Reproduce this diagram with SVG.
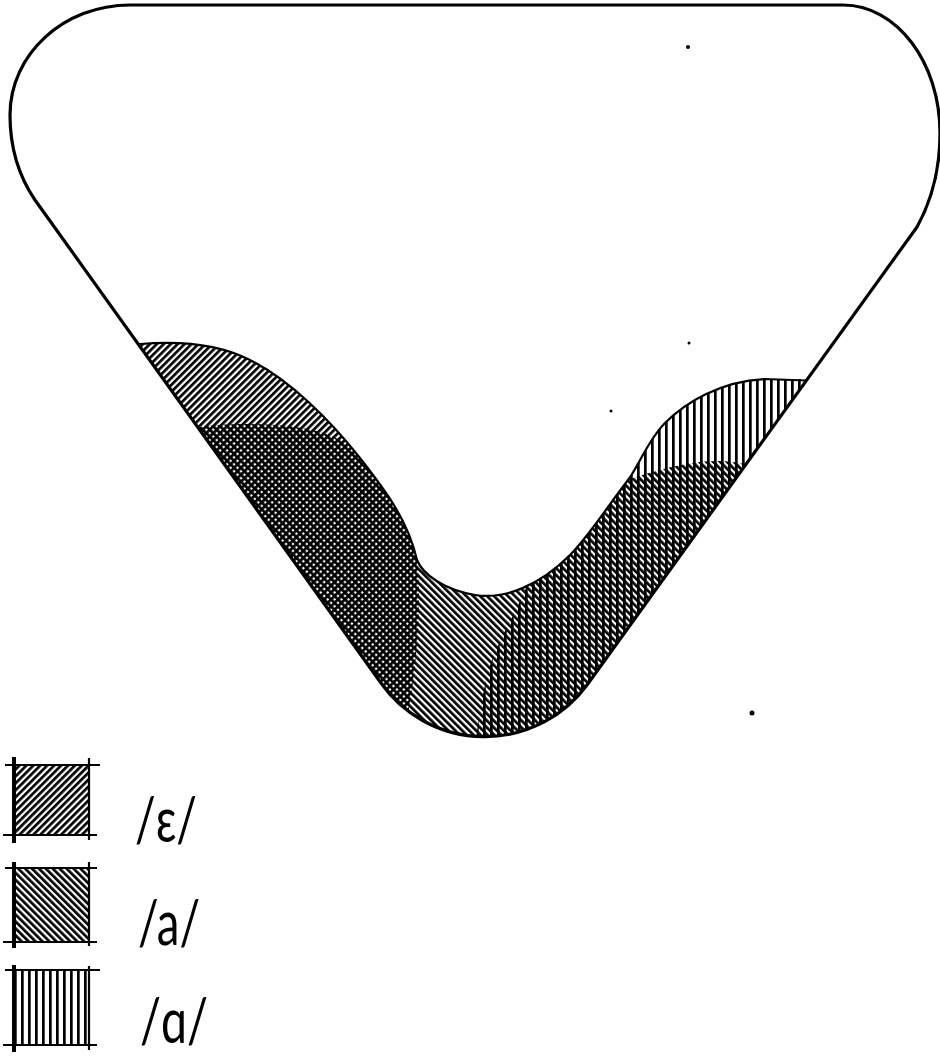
<svg xmlns="http://www.w3.org/2000/svg" width="940" height="1058" viewBox="0 0 940 1058">
<style>
.ol{fill:none;stroke:#000;stroke-width:3.2;stroke-linejoin:round}
.bt{fill:none;stroke:#000;stroke-width:2.2}
.lg{stroke:#000;stroke-width:2.2}
.lgt{stroke:#000;stroke-width:4}
.lbl{font-family:Lato,"Open Sans","DejaVu Sans",sans-serif;font-weight:400;font-size:62px;fill:#000}
.spk{fill:#000}
</style>
<defs>
<pattern id="hE" width="4.9" height="10" patternUnits="userSpaceOnUse" patternTransform="rotate(45)"><rect width="2.7" height="10" fill="#000"/></pattern>
<pattern id="hA" width="4.9" height="10" patternUnits="userSpaceOnUse" patternTransform="rotate(-45)"><rect width="2.7" height="10" fill="#000"/></pattern>
<pattern id="hQ" width="7" height="10" patternUnits="userSpaceOnUse"><rect width="2.7" height="10" fill="#000"/></pattern>
<clipPath id="outer"><path d="M 130 5 L 843 5 C 896.6 5 940 62.3 940 133 C 940 170 932 200 917 227 L 587 685 A 127 127 0 0 1 381 683 L 35 200 C 20 178 10 150 10 115 C 10 54 64 5 130 5 Z"/></clipPath>
<clipPath id="band"><path d="M 0 345 L 140 344 C 175 341 215 342 250 360 C 290 380 330 420 360 458 C 385 490 408 520 417 560 C 423 575 445 590 475 595 C 505 600 540 585 570 555 C 588 537 605 510 628 480 C 638 467 648 440 665 423 C 685 403 720 381 765 379 L 940 379 L 940 1058 L 0 1058 Z"/></clipPath>
</defs>
<rect width="940" height="1058" fill="#fff"/>
<g clip-path="url(#outer)">
<g clip-path="url(#band)">
<g id="region-e"><path fill="url(#hE)" d="M 0 300 L 417 300 L 417 560 C 420 585 421 640 408 715 L 400 900 L 0 900 Z"/></g>
<g id="region-a"><path fill="url(#hA)" d="M 180 428 L 200 427 C 230 422 290 423 320 432 C 335 437 345 442 352 446 L 365 420 L 626 420 L 630 479 C 650 472 690 460 720 461 C 740 462 760 467 790 475 L 950 480 L 950 1058 L 0 1058 L 0 440 Z"/></g>
<g id="region-q"><path fill="url(#hQ)" d="M 526 300 L 526 588 C 515 615 492 650 486 680 C 481 705 477 725 474 760 L 474 1058 L 950 1058 L 950 300 Z"/></g>
</g>
<path class="bt" d="M 130 345 L 140 344 C 175 341 215 342 250 360 C 290 380 330 420 360 458 C 385 490 408 520 417 560 C 423 575 445 590 475 595 C 505 600 540 585 570 555 C 588 537 605 510 628 480 C 638 467 648 440 665 423 C 685 403 720 381 765 379 L 820 381"/>
</g>
<g id="outline"><path class="ol" d="M 130 5 L 843 5 C 896.6 5 940 62.3 940 133 C 940 170 932 200 917 227 L 587 685 A 127 127 0 0 1 381 683 L 35 200 C 20 178 10 150 10 115 C 10 54 64 5 130 5 Z"/></g>
<g id="specks">
<circle class="spk" cx="688" cy="47" r="2"/>
<circle class="spk" cx="689" cy="343" r="1.5"/>
<circle class="spk" cx="611" cy="411" r="1.5"/>
<circle class="spk" cx="752" cy="713" r="2.5"/>
</g>
<g id="legend-e">
<rect x="13" y="765" width="76" height="70" fill="url(#hE)"/>
<line class="lg" x1="5" y1="765" x2="100" y2="765"/>
<line class="lg" x1="3" y1="835" x2="97" y2="835"/>
<line class="lgt" x1="14" y1="757" x2="14" y2="843"/>
<line class="lg" x1="89" y1="758" x2="89" y2="840"/>
<text class="lbl" x="135" y="842" textLength="62" lengthAdjust="spacingAndGlyphs">/ɛ/</text>
</g>
<g id="legend-a">
<rect x="13" y="868" width="76" height="74" fill="url(#hA)"/>
<line class="lg" x1="5" y1="868" x2="97" y2="868"/>
<line class="lg" x1="3" y1="942" x2="97" y2="942"/>
<line class="lgt" x1="14" y1="862" x2="14" y2="948"/>
<line class="lg" x1="89" y1="862" x2="89" y2="946"/>
<text class="lbl" x="138" y="945" textLength="62" lengthAdjust="spacingAndGlyphs">/a/</text>
</g>
<g id="legend-q">
<rect x="13" y="970" width="76" height="75" fill="url(#hQ)"/>
<line class="lg" x1="5" y1="970" x2="100" y2="970"/>
<line class="lg" x1="3" y1="1045" x2="97" y2="1045"/>
<line class="lgt" x1="14" y1="965" x2="14" y2="1052"/>
<line class="lg" x1="89" y1="966" x2="89" y2="1050"/>
<text class="lbl" x="140" y="1043" textLength="68" lengthAdjust="spacingAndGlyphs">/ɑ/</text>
</g>
</svg>
